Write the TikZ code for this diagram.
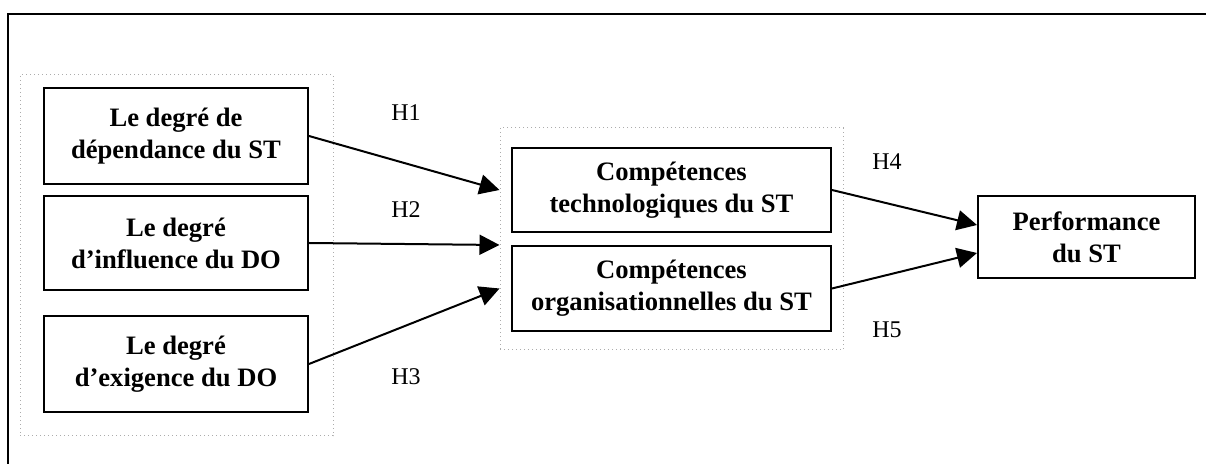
\documentclass[tikz,border=0pt]{standalone}
\usepackage{fontspec}
\setmainfont{Liberation Serif}
\usepackage{tikz}
\usetikzlibrary{positioning, calc, arrows.meta}

\tikzset{
	blok/.style={draw, line width=1pt, inner sep=2pt, align=center, minimum width=#1,
		font=\bfseries\fontsize{13.3}{16}\selectfont},
	blok/.default=132pt,
	grp/.style={draw=gray!65, line width=0.5pt, dash pattern=on 0.5pt off 1.5pt},
	hlab/.style={font=\fontsize{12}{14}\selectfont},
	arr/.style={line width=1pt, -{Triangle[length=10pt, width=10pt]}}
}

\begin{document}
\begin{tikzpicture}[x=0.5pt, y=-0.5pt]
	
	%//picture is 1206 x 464, y runs downwards
	\useasboundingbox (0,0) rectangle (1206,464);
	\draw [line width=1pt] (1206,14) -- (8,14) -- (8,464);
	
	%//dotted groups
	\node [grp, minimum width=156.5pt, minimum height=180.5pt] (grpl) at (176.5,255.5) {};
	\node [grp, minimum width=171.5pt, minimum height=111pt] (grpm) at (671.5,239) {};
	
	%//left column
	\node [blok, minimum height=48pt] (b1) at (176,136) {Le degré de\\dépendance du ST};
	\node [blok, minimum height=47pt] (b2) at (176,243) {Le degré\\d’influence du DO};
	\node [blok, minimum height=48pt] (b3) at (176,364) {Le degré\\d’exigence du DO};
	
	%//middle column
	\node [blok=159.5pt, minimum height=42pt] (b4) at (671.5,190) {Compétences\\technologiques du ST};
	\node [blok=159.5pt, minimum height=42.5pt] (b5) at (671.5,288.5) {Compétences\\organisationnelles du ST};
	
	%//right
	\node [blok=108.5pt, minimum height=41pt] (b6) at (1086.5,237) {Performance\\du ST};
	
	\draw [arr] (b1.east) -- (grpm.west |- b4.west);
	\draw [arr] (b2.east) -- ($(grpm.west)+(0,6)$);
	\draw [arr] (b3.east) -- (grpm.west |- b5.west);
	\draw [arr] (b4.east) -- ($(b6.west)+(0,-12)$);
	\draw [arr] (b5.east) -- ($(b6.west)+(0,16)$);
	
	\foreach \i/\x/\y in {1/406/113, 2/406/210, 3/406/377, 4/887/162, 5/887/330}
	\node [hlab] (h\i) at (\x,\y) {H\i};
	
\end{tikzpicture}
\end{document}
